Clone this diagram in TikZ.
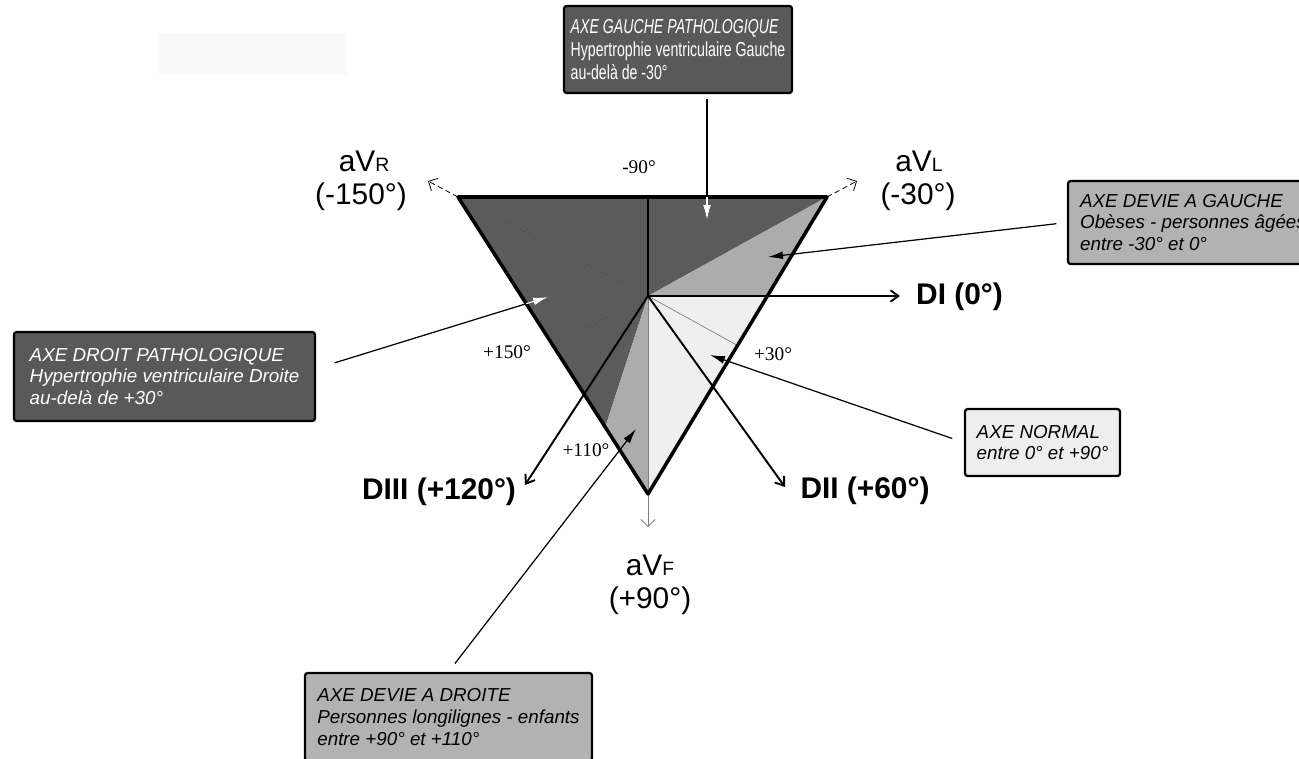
\documentclass[tikz,border=0pt]{standalone}
\usepackage{fontspec}
\setmainfont{Liberation Sans}
\newfontfamily\degfont{Liberation Serif}
\newfontfamily\narrowsans[FakeStretch=0.7]{Liberation Sans}
\usetikzlibrary{arrows.meta,calc}
\definecolor{zonedark}{RGB}{91,91,91}
\definecolor{zonemid}{RGB}{172,172,172}
\definecolor{zonelight}{RGB}{239,239,239}
\definecolor{boxdark}{RGB}{89,89,89}
\definecolor{boxmid}{RGB}{178,178,178}
\definecolor{boxlight}{RGB}{238,238,238}
\definecolor{ghost}{RGB}{250,250,250}

\begin{document}
\begin{tikzpicture}[x=0.02cm, y=-0.02cm,
  box/.style={draw=black, line width=1.3pt, rounded corners=1.5pt, align=left, inner sep=0pt, font=\fontsize{10.7}{12.3}\selectfont},
  darkbox/.style={box, fill=boxdark, text=white},
  note/.style={line width=0.7pt, -{Latex[length=8.5pt,width=4.5pt]}},
  lead/.style={line width=1.1pt, -{Straight Barb[length=4.5pt,width=6.5pt]}},
  thinaxis/.style={line width=0.45pt, -{Straight Barb[length=4pt,width=8pt]}},
  axl/.style={font=\bfseries\fontsize{17}{17}\selectfont},
  avl/.style={font=\fontsize{17}{17}\selectfont},
  deg/.style={font=\degfont\fontsize{11}{11}\selectfont}]

\path[use as bounding box, clip] (0,0) rectangle (1299,758);
\fill[ghost] (158,33) rectangle (347,75);

% Triangle corners and edge points
\coordinate (O) at (648,296);
\coordinate (R) at (458,197);
\coordinate (L) at (827,197);
\coordinate (F) at (648,494);
\coordinate (eI) at ($(L)!0.335!(F)$);
\coordinate (e30) at ($(L)!0.5!(F)$);
\coordinate (e150) at ($(R)!0.5!(F)$);
\coordinate (e110) at ($(R)!0.775!(F)$);

% Zones
\fill[zonedark] (O) -- (L) -- (R) -- (e110) -- cycle;
\fill[zonemid] (O) -- (L) -- (eI) -- cycle;
\fill[zonelight] (O) -- (eI) -- (F) -- cycle;
\fill[zonemid] (O) -- (F) -- (e110) -- cycle;

\draw[dotted, black!75] (O) -- (R);
\draw[dotted, black!75] (O) -- (e150);
\draw[gray, line width=0.4pt] (O) -- (e30);
\draw[line width=0.6pt] (O) -- (O |- R);

% Secondary axes
\coordinate (aVRend) at (428,181);
\coordinate (aVLend) at (857,181);
\coordinate (aVFend) at (648,527);
\draw[thinaxis, densely dashed] (R) -- (aVRend);
\draw[thinaxis, densely dashed] (L) -- (aVLend);
\draw[thinaxis, gray] (O) -- (aVFend);

\draw[line width=2pt, line join=round] (R) -- (L) -- (F) -- cycle;

% Main axes
\coordinate (DIend) at (900,296);
\coordinate (DIIend) at (785,487);
\coordinate (DIIIend) at (525,485);
\foreach \e in {DIend, DIIend, DIIIend}
  \draw[lead] (O) -- (\e);

\node[axl, anchor=west] (lDI) at (910,297) {DI (0°)};
\node[axl] (lDII) at (865,491) {DII (+60°)};
\node[axl] (lDIII) at (439,492) {DIII (+120°)};
\node[avl] (aVR) at (364,161) {aV{\fontsize{11}{11}\selectfont R}};
\node[avl] (aVRdeg) at (361,197) {(-150°)};
\node[avl] (aVL) at (919,161) {aV{\fontsize{11}{11}\selectfont L}};
\node[avl] (aVLdeg) at (918,197) {(-30°)};
\node[avl] (aVF) at (650,565) {aV{\fontsize{11}{11}\selectfont F}};
\node[avl] (aVFdeg) at (650,601) {(+90°)};

\node[deg] (d90) at (639,167) {-90°};
\node[deg] (d150) at (507,352) {+150°};
\node[deg] (d30) at (773,354) {+30°};
\node[deg] (d110) at (586,450) {+110°};

% Boxes
\node[darkbox, font=\narrowsans\fontsize{11.5}{13.2}\selectfont, minimum width=4.56cm, minimum height=1.74cm] (axeGP) at (678,49.5)
  {\textit{AXE GAUCHE PATHOLOGIQUE}\\Hypertrophie ventriculaire Gauche\\au-delà de -30°};
\node[box, fill=boxmid, minimum width=5.0cm, minimum height=1.66cm] (axeDG) at (1193,222.5)
  {\itshape AXE DEVIE A GAUCHE\\\itshape Obèses - personnes âgées\\\itshape entre -30° et 0°};
\node[darkbox, minimum width=6.02cm, minimum height=1.78cm] (axeDP) at (164.5,376.5)
  {\itshape AXE DROIT PATHOLOGIQUE\\\itshape Hypertrophie ventriculaire Droite\\\itshape au-delà de +30°};
\node[box, fill=boxlight, minimum width=3.1cm, minimum height=1.34cm] (axeN) at (1042.5,442.5)
  {\itshape AXE NORMAL\\\itshape entre 0° et +90°};
\node[box, fill=boxmid, minimum width=5.74cm, minimum height=1.76cm] (axeDD) at (448.5,717)
  {\itshape AXE DEVIE A DROITE\\\itshape Personnes longilignes - enfants\\\itshape entre +90° et +110°};

% Pointers
\coordinate (tGP) at (707,220);
\coordinate (tDG) at (768,257);
\coordinate (tDP) at (548,297);
\coordinate (tN) at (710,355);
\coordinate (tDD) at (636,429);
\draw[note, shorten <=3pt] (axeGP.south -| tGP) -- (tGP);
\draw[note, shorten <=6pt] (axeDG.west) -- (tDG);
\draw[note, shorten <=11pt] (axeDP.3) -- (tDP);
\draw[note, shorten <=7pt] (axeN.west) -- (tN);
\draw[note, shorten <=6pt] (axeDD.north) -- (tDD);
\begin{scope}
  \clip (O) -- (L) -- (R) -- (e110) -- cycle;
  \draw[note, white, shorten <=3pt] (axeGP.south -| tGP) -- (tGP);
  \draw[note, white, shorten <=11pt] (axeDP.3) -- (tDP);
\end{scope}

\end{tikzpicture}
\end{document}
